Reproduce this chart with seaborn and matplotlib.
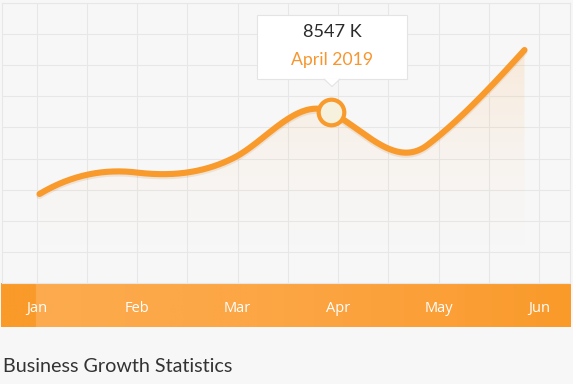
import numpy as np
import pandas as pd
import matplotlib
matplotlib.use("Agg")
import matplotlib.pyplot as plt
import seaborn as sns
from matplotlib import patheffects as pe
from matplotlib import transforms as mtrans
from matplotlib.patches import Rectangle, Polygon
from matplotlib.lines import Line2D
from matplotlib.colors import to_rgba

# ---------------- data ----------------
months = ["Jan", "Feb", "Mar", "Apr", "May", "Jun"]
values = [4450, 5525, 6250, 8547, 6900, 11650]          # K
# slope of the smoothed curve at each month (value per month), used for spline smoothing
tangents = [2900, -580, 2430, -2430, 3700, 5350]
highlight = 3
tooltip_value = "8547 K"
tooltip_label = "April 2019"
title = "Business Growth Statistics"
y_max = 14000

# ---------------- style ----------------
sns.set_theme(style="white")
plt.rcParams["font.family"] = ["Open Sans", "DejaVu Sans"]
orange = "#f99a2c"
bg = "#f7f7f7"
gridc = "#e7e7e7"

W, H = 573, 384
fig = plt.figure(figsize=(W / 100, H / 100), dpi=100, facecolor=bg)


def frac(x0, y0, x1, y1):
    return [x0 / W, 1 - y1 / H, (x1 - x0) / W, (y1 - y0) / H]


# ---------------- orange month band ----------------
axb = fig.add_axes(frac(1, 283, 571, 327))
stops_x = [0.0, 0.060, 0.0615, 0.45, 0.80, 1.0]
stops_c = ["#f99a29", "#f99b2b", "#fcab4e", "#fca645", "#fb9f36", "#f99a29"]
xx = np.linspace(0, 1, 600)
rgb = np.array([to_rgba(c) for c in stops_c])
band = np.stack([np.interp(xx, stops_x, rgb[:, k]) for k in range(4)], axis=-1)[None, :, :]
axb.imshow(band, extent=[0, 1, 0, 1], transform=axb.transAxes, aspect="auto", zorder=0)
axb.set_xlim(-0.355, 5.316)
axb.set_ylim(0, 1)
axb.set_xticks(range(len(months)), months)
axb.set_yticks([])
axb.tick_params(axis="x", length=0, pad=-11.0, labelsize=10.5, labelcolor="white", direction="in")
for lbl in axb.get_xticklabels():
    lbl.set_va("baseline")
for s in axb.spines.values():
    s.set_visible(False)

# ---------------- grid area ----------------
ax = fig.add_axes(frac(2, 3, 570, 283))
ax.set_facecolor(bg)
ax.set_xlim(-0.345, 5.306)
ax.set_ylim(0, y_max)
ax.set_xticks(np.arange(0, 5.01, 0.5))
ax.set_yticks(np.linspace(0, y_max, 10))
ax.tick_params(length=0, labelbottom=False, labelleft=False)
ax.grid(True, color=gridc, lw=0.8)
for s in ax.spines.values():
    s.set_color(gridc)
    s.set_linewidth(0.8)

# ---------------- line ----------------
axl = ax.twiny()
axl.patch.set_visible(False)
for s in axl.spines.values():
    s.set_visible(False)
axl.tick_params(length=0, labeltop=False, labelbottom=False)
axl.grid(False)

xs, ys = [], []
t = np.linspace(0, 1, 80)
h00 = 2 * t**3 - 3 * t**2 + 1
h10 = t**3 - 2 * t**2 + t
h01 = -2 * t**3 + 3 * t**2
h11 = t**3 - t**2
for i in range(len(values) - 1):
    seg = h00 * values[i] + h10 * tangents[i] + h01 * values[i + 1] + h11 * tangents[i + 1]
    xs.append(i + t)
    ys.append(seg)
xs = np.concatenate(xs)
ys = np.concatenate(ys)
curve = pd.DataFrame({"x": xs, "y": ys})

# gradient area
poly = axl.fill_between(curve["x"], curve["y"], 0, color="none", lw=0)
grad = np.zeros((256, 1, 4))
grad[..., :3] = to_rgba(orange)[:3]
grad[..., 3] = (0.15 * np.linspace(0, 1, 256) ** 2.0)[:, None]
im = axl.imshow(grad, extent=[0, len(values) - 1, 0, max(values)], origin="lower",
                aspect="auto", zorder=1)
im.set_clip_path(poly.get_paths()[0], transform=axl.transData)

sns.lineplot(data=curve, x="x", y="y", ax=axl, color=orange, lw=4.4, sort=False,
             estimator=None, solid_capstyle="round", zorder=3)
axl.lines[-1].set_path_effects([pe.SimpleLineShadow(offset=(0, -1.5), alpha=0.12, shadow_color="#b06010"),
                                pe.Normal()])

sns.scatterplot(x=[highlight], y=[values[highlight]], ax=axl, s=340, color="#f6f1dc",
                edgecolor=orange, linewidth=3.0, zorder=5)

axl.set_xlim(-0.3866, 5.469)
axl.set_ylim(0, y_max)
axl.set_xlabel("")
axl.set_ylabel("")
ax.set_xlabel("")

# ---------------- tooltip ----------------
off = fig.dpi_scale_trans + mtrans.ScaledTranslation(highlight, values[highlight], axl.transData)
box = Rectangle((-0.735, 0.33), 1.50, 0.64, transform=off, facecolor="white",
                edgecolor="#e4e4e4", lw=0.8, zorder=10)
fig.add_artist(box)
tri = Polygon([(-0.06, 0.335), (0.09, 0.335), (0.015, 0.255)], closed=True, transform=off,
              facecolor="white", edgecolor="none", zorder=11)
fig.add_artist(tri)
fig.add_artist(Line2D([-0.065, 0.015, 0.095], [0.33, 0.255, 0.33], transform=off,
                      color="#e4e4e4", lw=0.8, zorder=12))

tv = fig.text(0.015, 0.747, tooltip_value, transform=off, ha="center", va="baseline",
              color="#2b2b2b", fontsize=12.5, family=["Lato", "DejaVu Sans"], zorder=13)
tl = fig.text(0.015, 0.47, tooltip_label, transform=off, ha="center", va="baseline",
              color="#f7962e", fontsize=12.5, family=["Lato", "DejaVu Sans"], zorder=13)

tt = fig.text(3 / W, 1 - 372.5 / H, title, ha="left", va="baseline", color="#333333",
              fontsize=13, family=["Lato", "DejaVu Sans"])

# fit text widths to the reference
renderer = fig.canvas.get_renderer()
for txt, wpx in [(tv, 59), (tl, 82), (tt, 230)]:
    w = txt.get_window_extent(renderer).width
    txt.set_fontsize(txt.get_fontsize() * wpx / w)

fig.savefig("out.png", dpi=100, facecolor=bg)
